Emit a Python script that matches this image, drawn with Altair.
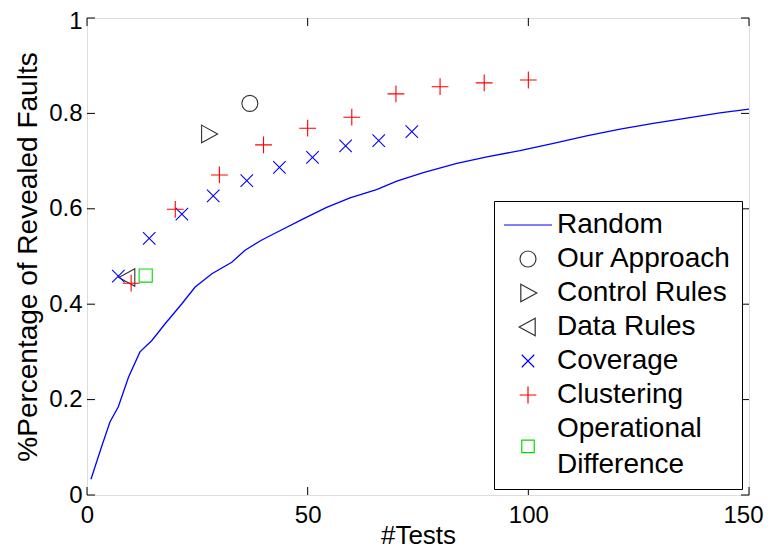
import altair as alt
import pandas as pd

# ---- data ----
random_x = [0.9, 3.3, 5.2, 7.1, 9.4, 12.0, 14.7, 17.7, 21.5, 24.5, 28.3, 32.8, 35.8,
            39.5, 43.7, 49.0, 54.3, 59.6, 65.6, 70.2, 76.2, 83.8, 90.6, 98.1, 105.7,
            113.2, 120.8, 128.3, 136.6, 143.4, 150.0]
random_y = [0.033, 0.101, 0.153, 0.185, 0.247, 0.300, 0.324, 0.359, 0.401, 0.436, 0.464,
            0.488, 0.513, 0.534, 0.554, 0.579, 0.603, 0.623, 0.640, 0.658, 0.676, 0.695,
            0.709, 0.722, 0.737, 0.753, 0.767, 0.779, 0.791, 0.801, 0.809]

our_x = [36.9]
our_y = [0.821]
control_x = [27.6]
control_y = [0.757]
data_x = [9.2]
data_y = [0.456]
coverage_x = [7.1, 14.1, 21.5, 28.6, 36.2, 43.6, 51.1, 58.6, 66.1, 73.6]
coverage_y = [0.459, 0.538, 0.589, 0.627, 0.659, 0.687, 0.708, 0.732, 0.743, 0.762]
cluster_x = [10, 20, 30, 40, 50, 60, 70, 80, 90, 100]
cluster_y = [0.444, 0.599, 0.671, 0.734, 0.769, 0.792, 0.841, 0.856, 0.864, 0.870]
oper_x = [13.3]
oper_y = [0.460]

series_names = ["Random", "Our Approach", "Control Rules", "Data Rules",
                "Coverage", "Clustering", "Operational Difference"]
series_colors = ["#0000ff", "#333333", "#333333", "#333333", "#0000ff", "#ff0000", "#00dd00"]
# marker shapes used in the plot
series_shapes = ["M-3,0H3", "circle",
                 "M-0.9,-1.1L1.1,0L-0.9,1.1Z",
                 "M0.9,-1.1L-1.1,0L0.9,1.1Z",
                 "M-0.78,-0.78L0.78,0.78M-0.78,0.78L0.78,-0.78",
                 "M-1.05,0H1.05M0,-1.05V1.05",
                 "M-0.82,-0.82H0.82V0.82H-0.82Z"]
# legend symbols (the two-line entry has its square centred between its lines)
legend_shapes = series_shapes[:-1] + ["M-0.78,1.4H0.78V2.96H-0.78Z"]

x_ticks = [0, 50, 100, 150]
y_ticks = [0, 0.2, 0.4, 0.6, 0.8, 1.0]

W, H = 662, 477
FONT = "Liberation Sans"

# ---- tables ----
df_random = pd.DataFrame({"x": random_x, "y": random_y})
rows = []
for name, xs, ys in [("Our Approach", our_x, our_y), ("Control Rules", control_x, control_y),
                     ("Data Rules", data_x, data_y), ("Coverage", coverage_x, coverage_y),
                     ("Clustering", cluster_x, cluster_y),
                     ("Operational Difference", oper_x, oper_y)]:
    for a, b in zip(xs, ys):
        rows.append({"x": a, "y": b, "series": name})
df_pts = pd.DataFrame(rows)
df_leg = pd.DataFrame({"entry": series_names})
df_xt = pd.DataFrame({"x": x_ticks})
df_yt = pd.DataFrame({"y": y_ticks})

xscale = alt.Scale(domain=[0, 150], nice=False, zero=False)
yscale = alt.Scale(domain=[0, 1], nice=False, zero=False)

xaxis = alt.Axis(values=x_ticks, title="#Tests", grid=False, ticks=False, tickSize=0,
                 domain=False, labelFontSize=24, labelPadding=8, titleFontSize=26,
                 titleFontWeight="normal", titlePadding=-5, labelFlush=False,
                 labelOverlap=False,
                 labelOffset={"condition": {"test": "datum.value == 150", "value": -6},
                              "value": 0})
yaxis = alt.Axis(values=y_ticks, title="%Percentage of Revealed Faults", grid=False,
                 ticks=False, tickSize=0, domain=False, labelFontSize=24, labelPadding=5,
                 titleFontSize=28, titleFontWeight="normal", titlePadding=6,
                 labelFlush=False, labelOverlap=False,
                 labelExpr="format(datum.value, '~g')",
                 labelOffset={"condition": {"test": "datum.value == 1", "value": 3},
                              "value": 0})

legend = alt.Legend(title=None, orient="none", legendX=407, legendY=183,
                    strokeColor="black", fillColor="white", padding=10,
                    labelFontSize=28, labelFont=FONT, labelColor="black", labelLimit=400,
                    symbolSize=256, symbolStrokeWidth=1.2, symbolOffset=10,
                    symbolOpacity=1, labelOffset=15, rowPadding=6,
                    labelExpr="datum.label == 'Operational Difference' ? ['Operational', 'Difference'] : datum.label")

line = alt.Chart(df_random).mark_line(color="#0000ff", strokeWidth=1.3).encode(
    x=alt.X("x:Q", scale=xscale, axis=xaxis),
    y=alt.Y("y:Q", scale=yscale, axis=yaxis),
)

points = alt.Chart(df_pts).mark_point(filled=False, size=256, strokeWidth=1.1, opacity=1).encode(
    x=alt.X("x:Q", scale=xscale),
    y=alt.Y("y:Q", scale=yscale),
    shape=alt.Shape("series:N", scale=alt.Scale(domain=series_names, range=series_shapes),
                    legend=None),
    color=alt.Color("series:N", scale=alt.Scale(domain=series_names, range=series_colors),
                    legend=None),
)

# legend-only layer (its marks are invisible; it just carries the legend)
legend_layer = alt.Chart(df_leg).mark_point(filled=False, size=256, opacity=0).encode(
    x=alt.value(0), y=alt.value(0),
    shape=alt.Shape("entry:N", scale=alt.Scale(domain=series_names, range=legend_shapes),
                    legend=legend),
    color=alt.Color("entry:N", scale=alt.Scale(domain=series_names, range=series_colors),
                    legend=legend),
)

tick_left = alt.Chart(df_yt).mark_rule(color="black", strokeWidth=1).encode(
    y=alt.Y("y:Q", scale=yscale), x=alt.value(0), x2=alt.value(8))
tick_right = alt.Chart(df_yt).mark_rule(color="black", strokeWidth=1).encode(
    y=alt.Y("y:Q", scale=yscale), x=alt.value(W - 8), x2=alt.value(W))
tick_bottom = alt.Chart(df_xt).mark_rule(color="black", strokeWidth=1).encode(
    x=alt.X("x:Q", scale=xscale), y=alt.value(H - 8), y2=alt.value(H))
tick_top = alt.Chart(df_xt).mark_rule(color="black", strokeWidth=1).encode(
    x=alt.X("x:Q", scale=xscale), y=alt.value(0), y2=alt.value(8))

chart = alt.layer(line, tick_left, tick_right, tick_bottom, tick_top, points,
                  legend_layer).resolve_scale(
    shape="independent", color="independent"
).properties(
    width=W, height=H,
    autosize=alt.AutoSizeParams(type="none"),
    padding={"left": 79, "top": 10, "right": 15, "bottom": 54},
).configure_view(stroke="black", strokeWidth=1.2).configure_axis(
    labelFont=FONT, titleFont=FONT, labelColor="black", titleColor="black",
    titleFontWeight="normal",
).configure(background="white", style={"guide-label": {"lineHeight": 36}})

chart.save("out.html", embed_options={"renderer": "svg", "actions": False})
